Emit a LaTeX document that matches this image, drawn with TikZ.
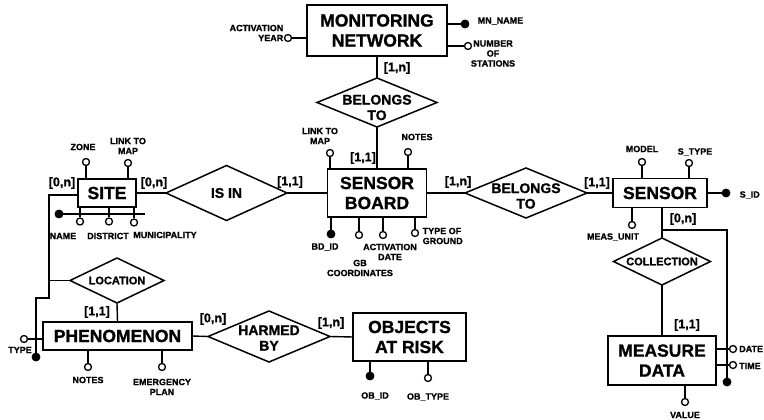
\documentclass[tikz,border=0pt]{standalone}
\usepackage{fontspec}
\setmainfont{Liberation Sans}[BoldFeatures={FakeBold=1.2}]
\usetikzlibrary{shapes.geometric}
\begin{document}
\begin{tikzpicture}[x=1pt,y=-1pt,line width=1.4pt,
 ent/.style={draw, rectangle, inner sep=0pt, outer sep=0pt, align=center, line width=1.6pt, font=\fontsize{17.5}{20}\selectfont\bfseries},
 rel/.style={draw, diamond, inner sep=0pt, outer sep=0pt, line width=1.5pt},
 reltxt/.style={align=center, inner sep=0pt, font=\fontsize{14}{15.5}\selectfont\bfseries},
 smalltxt/.style={align=center, inner sep=0pt, font=\fontsize{11}{12}\selectfont\bfseries},
 card/.style={inner sep=0pt, font=\fontsize{12.5}{13}\selectfont\bfseries},
 atxt/.style={inner sep=0pt, align=center, font=\fontsize{9}{10}\selectfont\bfseries},
 att/.style={circle, draw, fill=white, inner sep=0pt, minimum size=7pt, line width=1.3pt},
 key/.style={circle, draw, fill=black, inner sep=0pt, minimum size=8pt, line width=0.8pt},
]
\useasboundingbox (0,0) rectangle (764,420);

% ---------- entities
\node[ent, minimum width=140pt, minimum height=51pt] (mn) at (377,30.5) {MONITORING\\NETWORK};
\node[ent, minimum width=99pt, minimum height=48pt] (sb) at (377,193) {SENSOR\\BOARD};
\node[ent, minimum width=58pt, minimum height=28pt] (site) at (107,193) {SITE};
\node[ent, minimum width=94pt, minimum height=29pt] (sensor) at (660,193) {SENSOR};
\node[ent, minimum width=108pt, minimum height=49pt] (md) at (662,360.5) {MEASURE\\DATA};
\node[ent, minimum width=149pt, minimum height=28pt] (ph) at (117.5,336) {PHENOMENON};
\node[ent, minimum width=113pt, minimum height=48pt] (oar) at (409.5,337) {OBJECTS\\AT RISK};

% ---------- relationships
\node[rel, minimum width=120pt, minimum height=49pt] (b1) at (377,102.5) {};
\node[reltxt] (b1t) at ([yshift=-5pt]b1.center) {BELONGS\\TO};
\node[rel, minimum width=121pt, minimum height=55pt] (isin) at (226.5,193) {};
\node[reltxt] (isint) at (isin.center) {IS IN};
\node[rel, minimum width=122pt, minimum height=50pt] (b2) at (526,193) {};
\node[reltxt] (b2t) at ([yshift=-3pt]b2.center) {BELONGS\\TO};
\node[rel, minimum width=97pt, minimum height=47pt] (coll) at (662,261.5) {};
\node[smalltxt] (collt) at (coll.center) {COLLECTION};
\node[rel, minimum width=94pt, minimum height=45pt] (loc) at (117,280.5) {};
\node[smalltxt] (loct) at (loc.center) {LOCATION};
\node[rel, minimum width=122pt, minimum height=51pt] (hb) at (269,336.5) {};
\node[reltxt] (hbt) at ([yshift=-1.5pt]hb.center) {HARMED\\BY};

% ---------- connectors
\coordinate (sc1) at (49,195);
\draw (mn.south) -- (b1.north);
\draw (b1.south) -- (sb.north);
\draw (site.east) -- (isin.west);
\draw (isin.east) -- (sb.west);
\draw (sb.east) -- (b2.west);
\draw (b2.east) -- (sensor.west);
\draw (sensor.south -| coll.north) -- (coll.north);
\draw (coll.south) -- (md.north);
\draw (site.west |- sc1) -- (sc1) |- (loc.west);
\draw (loc.south) -- (ph.north);
\draw (ph.east) -- (hb.west);
\draw (hb.east) -- (oar.west);

% ---------- cardinalities
\node[card] (c1) at (397,68) {[1,n]};
\node[card] (c2) at (363,158) {[1,1]};
\node[card] (c3) at (290,182) {[1,1]};
\node[card] (c4) at (458,182) {[1,n]};
\node[card] (c5) at (597,183) {[1,1]};
\node[card] (c6) at (683,219) {[0,n]};
\node[card] (c7) at (687,325) {[1,1]};
\node[card] (c8) at (62,183) {[0,n]};
\node[card] (c9) at (154,183) {[0,n]};
\node[card] (c10) at (97,312) {[1,1]};
\node[card] (c11) at (213,319) {[0,n]};
\node[card] (c12) at (331,323) {[1,n]};

% ---------- MONITORING NETWORK attributes
\node[att] (aay) at (288,38) {};
\draw (aay) -- (mn.west |- aay);
\node[atxt, align=right, anchor=east] (taay) at (284,33) {ACTIVATION\\YEAR};
\node[key] (amn) at (465,24) {};
\draw (mn.east |- amn) -- (amn);
\node[atxt, anchor=west] (tamn) at (477,21) {MN\_NAME};
\node[att] (ans) at (468,46) {};
\draw (mn.east |- ans) -- (ans);
\node[atxt] (tans) at (493,53.5) {NUMBER\\OF\\STATIONS};

% ---------- SENSOR BOARD attributes
\node[att] (alm) at (330,153) {};
\draw (alm.south) -- (alm.south |- sb.north);
\node[atxt] (talm) at (320,136) {LINK TO\\MAP};
\node[att] (anotes) at (408,152) {};
\draw (anotes.south) -- (anotes.south |- sb.north);
\node[atxt] (tanotes) at (417,137) {NOTES};
\node[key] (abd) at (331,234) {};
\draw (abd.north) -- (abd.north |- sb.south);
\node[atxt] (tabd) at (325,247) {BD\_ID};
\node[att] (agb) at (359,235) {};
\draw (agb.north) -- (agb.north |- sb.south);
\node[atxt] (tagb) at (360,268) {GB\\COORDINATES};
\node[att] (aad) at (383,235) {};
\draw (aad.north) -- (aad.north |- sb.south);
\node[atxt] (taad) at (390,252) {ACTIVATION\\DATE};
\node[att] (atg) at (415,233) {};
\draw (atg.north) -- (atg.north |- sb.south);
\node[atxt, align=left, anchor=west] (tatg) at (422,236) {TYPE OF\\GROUND};

% ---------- SENSOR attributes
\node[att] (amodel) at (642,162) {};
\draw (amodel.south) -- (amodel.south |- sensor.north);
\node[atxt] (tamodel) at (642,149) {MODEL};
\node[att] (astype) at (689,163) {};
\draw (astype.south) -- (astype.south |- sensor.north);
\node[atxt] (tastype) at (695,152) {S\_TYPE};
\node[key] (asid) at (726,193) {};
\draw (sensor.east) -- (asid);
\node[atxt, anchor=west] (tasid) at (739,195) {S\_ID};
\node[att] (amu) at (632,225) {};
\draw (amu.north) -- (amu.north |- sensor.south);
\node[atxt] (tamu) at (613,237) {MEAS\_UNIT};

% ---------- MEASURE DATA attributes and identifier
\coordinate (mc1) at (662,230);
\coordinate (mc2) at (727,230);
\node[key] (mid) at (727,382) {};
\draw (mc1) -- (mc2) -- (mid);
\node[att] (adate) at (733,349) {};
\draw (md.east |- adate) -- (adate);
\node[atxt, anchor=west] (tadate) at (738.5,349) {DATE};
\node[att] (atime) at (733,365) {};
\draw (md.east |- atime) -- (atime);
\node[atxt, anchor=west] (tatime) at (738.5,366) {TIME};
\node[att] (avalue) at (685,402) {};
\draw (avalue.north) -- (avalue.north |- md.south);
\node[atxt] (tavalue) at (685,415) {VALUE};

% ---------- SITE attributes and identifier
\node[att] (azone) at (86,162) {};
\draw (azone.south) -- (azone.south |- site.north);
\node[atxt] (tazone) at (83,147) {ZONE};
\node[att] (aslm) at (128,163) {};
\draw (aslm.south) -- (aslm.south |- site.north);
\node[atxt] (taslm) at (128,146) {LINK TO\\MAP};
\node[key] (sid) at (59,214) {};
\coordinate (sidend) at (145,214);
\draw (sid) -- (sidend);
\node[att] (aname) at (80,221.5) {};
\draw (aname.north) -- (aname.north |- site.south);
\node[att] (adist) at (109,221.5) {};
\draw (adist.north) -- (adist.north |- site.south);
\node[att] (amun) at (134,222.5) {};
\draw (amun.north) -- (amun.north |- site.south);
\node[atxt] (taname) at (63,236) {NAME};
\node[atxt] (tadist) at (108,236) {DISTRICT};
\node[atxt] (tamun) at (165,235) {MUNICIPALITY};

% ---------- PHENOMENON attributes and identifier
\coordinate (pc1) at (49,298);
\coordinate (pc2) at (36,298);
\node[key] (pid) at (36,357) {};
\draw (loc.west -| sc1) -- (pc1) -- (pc2) -- (pid);
\node[att] (atype) at (24,339) {};
\draw (atype) -- (ph.west |- atype);
\node[atxt] (tatype) at (20,350) {TYPE};
\node[att] (apnotes) at (88,367) {};
\draw (apnotes.north) -- (apnotes.north |- ph.south);
\node[atxt] (tapnotes) at (88,380) {NOTES};
\node[att] (aep) at (162,367) {};
\draw (aep.north) -- (aep.north |- ph.south);
\node[atxt] (taep) at (162,387) {EMERGENCY\\PLAN};

% ---------- OBJECTS AT RISK attributes
\node[key] (aobid) at (370,376) {};
\draw (aobid.north) -- (aobid.north |- oar.south);
\node[atxt] (taobid) at (375,396) {OB\_ID};
\node[att] (aobt) at (428,378) {};
\draw (aobt.north) -- (aobt.north |- oar.south);
\node[atxt] (taobt) at (428,397) {OB\_TYPE};
\end{tikzpicture}
\end{document}
